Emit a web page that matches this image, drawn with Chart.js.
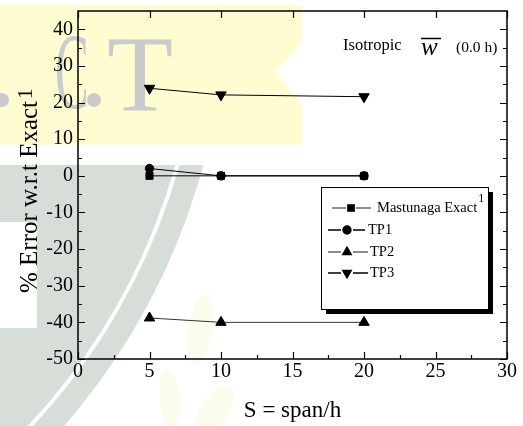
<!DOCTYPE html>
<html>
<head>
<meta charset="utf-8">
<script src="https://cdn.jsdelivr.net/npm/chart.js@4.4.1/dist/chart.umd.min.js"></script>
<style>
  html, body { margin: 0; padding: 0; background: #ffffff; }
  canvas { display: block; }
</style>
</head>
<body>
<canvas id="errChart" width="523" height="426"></canvas>
<script>
// Span-to-thickness ratios and % error of each theory w.r.t. the exact solution
const spanRatio = [5, 10, 20];
const mastunagaExact = [0, 0, 0];
const tp1 = [2, 0, 0];
const tp2 = [-38.8, -40, -40];
const tp3 = [23.9, 22.1, 21.6];
const seriesNames = ['Mastunaga Exact', 'TP1', 'TP2', 'TP3'];

// Axis ticks
const xTicks = [0, 5, 10, 15, 20, 25, 30];
const xMinorTicks = [2.5, 7.5, 12.5, 17.5, 22.5, 27.5];
const yTicks = [-50, -40, -30, -20, -10, 0, 10, 20, 30, 40];
const yMinorTicks = [-45, -35, -25, -15, -5, 5, 15, 25, 35];

const SERIF = '"Liberation Serif", "Times New Roman", serif';

function toPoints(xs, ys) {
  return xs.map((x, i) => ({ x: x, y: ys[i] }));
}

// Faint institutional backdrop behind the plot
const backdrop = {
  id: 'backdrop',
  beforeDraw(chart) {
    const ctx = chart.ctx;
    ctx.save();
    ctx.fillStyle = '#ffffff';
    ctx.fillRect(0, 0, chart.width, chart.height);

    // yellow band
    ctx.fillStyle = '#fefcd0';
    ctx.beginPath();
    ctx.moveTo(0, 5); ctx.lineTo(302, 5); ctx.lineTo(302, 42);
    ctx.lineTo(276, 72); ctx.lineTo(302, 104); ctx.lineTo(302, 145);
    ctx.lineTo(0, 145); ctx.closePath();
    ctx.fill();

    // grey letters
    ctx.fillStyle = '#cbcbcb';
    ctx.beginPath(); ctx.arc(94, 100, 7, 0, Math.PI * 2); ctx.fill();
    ctx.beginPath(); ctx.arc(2, 100, 7, 0, Math.PI * 2); ctx.fill();
    ctx.font = '108px ' + SERIF;
    ctx.textBaseline = 'alphabetic';
    ctx.textAlign = 'left';
    ctx.fillText('T', 107, 110);
    ctx.save();
    ctx.translate(55, 108);
    ctx.scale(0.47, 1);
    ctx.fillText('C', 0, 0);
    ctx.restore();

    // grey-green arc
    ctx.save();
    ctx.beginPath(); ctx.rect(0, 165, chart.width, chart.height - 165); ctx.clip();
    ctx.fillStyle = '#d7ded7';
    ctx.beginPath(); ctx.arc(-431, -6, 657, 0, Math.PI * 2); ctx.fill();
    ctx.strokeStyle = '#ffffff'; ctx.lineWidth = 4;
    ctx.beginPath(); ctx.arc(-431, -6, 632, 0, Math.PI * 2); ctx.stroke();
    ctx.fillStyle = '#ffffff';
    ctx.fillRect(0, 222, 37, 106);
    ctx.restore();

    // pale leaves
    ctx.fillStyle = '#fcfcec';
    ctx.beginPath(); ctx.ellipse(200, 330, 12, 35, 0.15, 0, Math.PI * 2); ctx.fill();
    ctx.beginPath(); ctx.ellipse(170, 400, 10, 30, -0.1, 0, Math.PI * 2); ctx.fill();
    ctx.beginPath(); ctx.ellipse(215, 410, 14, 26, 0.6, 0, Math.PI * 2); ctx.fill();
    ctx.restore();
  }
};

// Frame, inward ticks, y title, annotation and legend box
const decorations = {
  id: 'decorations',
  afterDraw(chart) {
    const ctx = chart.ctx;
    const xs = chart.scales.x, ys = chart.scales.y;
    const a = chart.chartArea;
    ctx.save();
    ctx.strokeStyle = '#000';
    ctx.lineWidth = 1.5;
    ctx.strokeRect(a.left, a.top, a.right - a.left, a.bottom - a.top);

    ctx.lineWidth = 1.2;
    ctx.beginPath();
    yTicks.concat(yMinorTicks).forEach(v => {
      const len = yTicks.includes(v) ? 7 : 4;
      const py = Math.round(ys.getPixelForValue(v)) + 0.5;
      ctx.moveTo(a.left, py); ctx.lineTo(a.left + len, py);
      ctx.moveTo(a.right, py); ctx.lineTo(a.right - len, py);
    });
    xTicks.concat(xMinorTicks).forEach(v => {
      const major = xTicks.includes(v);
      const len = major ? 7 : 4;
      const px = Math.round(xs.getPixelForValue(v)) + 0.5;
      ctx.moveTo(px, a.bottom); ctx.lineTo(px, a.bottom - len);
      if (major) { ctx.moveTo(px, a.top); ctx.lineTo(px, a.top + len); }
    });
    ctx.stroke();

    // y-axis title with superscript reference
    ctx.fillStyle = '#000';
    ctx.save();
    ctx.translate(37, 293);
    ctx.rotate(-Math.PI / 2);
    ctx.font = '25px ' + SERIF;
    ctx.textAlign = 'left';
    ctx.textBaseline = 'alphabetic';
    const yTitle = '% Error w.r.t Exact';
    ctx.fillText(yTitle, 0, 0);
    const w = ctx.measureText(yTitle).width;
    ctx.font = '21px ' + SERIF;
    ctx.fillText('1', w + 2, -5);
    ctx.restore();

    // annotation
    ctx.textBaseline = 'middle';
    ctx.font = '16.5px ' + SERIF;
    ctx.fillText('Isotropic', 343, 46);
    ctx.font = 'italic 25px ' + SERIF;
    ctx.textBaseline = 'alphabetic';
    ctx.fillText('w', 421, 55);
    ctx.lineWidth = 1.5;
    ctx.beginPath(); ctx.moveTo(421, 38.5); ctx.lineTo(441, 38.5); ctx.stroke();
    ctx.textBaseline = 'middle';
    ctx.font = '15.5px ' + SERIF;
    ctx.fillText('(0.0 h)', 456, 48);

    // legend box with drop shadow
    const bx = 321, by = 187, bw = 167, bh = 122;
    ctx.fillStyle = '#000';
    ctx.fillRect(bx + 5, by + 5, bw, bh);
    ctx.fillStyle = '#fff';
    ctx.fillRect(bx, by, bw, bh);
    ctx.strokeStyle = '#000';
    ctx.lineWidth = 1;
    ctx.strokeRect(bx + 0.5, by + 0.5, bw, bh);

    const rows = [
      { y: 208, l: [332, 346], m: 351, r: [356, 371], t: 377 },
      { y: 230, l: [328, 341], m: 347, r: [353, 365], t: 368 },
      { y: 252, l: [328, 341], m: 347, r: [353, 368], t: 370 },
      { y: 273, l: [328, 341], m: 347, r: [353, 368], t: 370 }
    ];
    chart.data.datasets.forEach((ds, i) => {
      const row = rows[i];
      ctx.strokeStyle = ds.legendLineColor;
      ctx.lineWidth = 1.3;
      ctx.beginPath();
      ctx.moveTo(row.l[0], row.y); ctx.lineTo(row.l[1], row.y);
      ctx.moveTo(row.r[0], row.y); ctx.lineTo(row.r[1], row.y);
      ctx.stroke();
      ctx.fillStyle = '#000';
      ctx.strokeStyle = '#000';
      Chart.helpers.drawPoint(ctx, {
        pointStyle: ds.pointStyle,
        rotation: ds.pointRotation || 0,
        radius: ds.legendRadius,
        borderWidth: 1
      }, row.m, row.y);
      ctx.fillStyle = '#000';
      ctx.font = '14.5px ' + SERIF;
      ctx.textBaseline = 'middle';
      ctx.textAlign = 'left';
      ctx.fillText(ds.label, row.t, row.y);
      if (i === 0) {
        const tw = ctx.measureText(ds.label).width;
        ctx.font = '12px ' + SERIF;
        ctx.fillText('1', row.t + tw + 1, row.y - 9);
      }
    });
    ctx.restore();
  }
};

new Chart(document.getElementById('errChart'), {
  type: 'line',
  data: {
    datasets: [
      {
        label: seriesNames[0], data: toPoints(spanRatio, mastunagaExact),
        borderColor: '#000', borderWidth: 1, pointStyle: 'rect', pointRadius: 5,
        pointBackgroundColor: '#000', pointBorderColor: '#000',
        legendLineColor: '#666', legendRadius: 4.5
      },
      {
        label: seriesNames[1], data: toPoints(spanRatio, tp1),
        borderColor: '#000', borderWidth: 1, pointStyle: 'circle', pointRadius: 4.2,
        pointBackgroundColor: '#000', pointBorderColor: '#000',
        legendLineColor: '#000', legendRadius: 4
      },
      {
        label: seriesNames[2], data: toPoints(spanRatio, tp2),
        borderColor: '#333', borderWidth: 1, pointStyle: 'triangle', pointRadius: 6,
        pointBackgroundColor: '#000', pointBorderColor: '#000',
        legendLineColor: '#666', legendRadius: 5
      },
      {
        label: seriesNames[3], data: toPoints(spanRatio, tp3),
        borderColor: '#000', borderWidth: 1, pointStyle: 'triangle', pointRotation: 180, pointRadius: 6,
        pointBackgroundColor: '#000', pointBorderColor: '#000',
        legendLineColor: '#000', legendRadius: 5
      }
    ]
  },
  options: {
    responsive: false,
    animation: false,
    devicePixelRatio: 1,
    layout: { padding: { left: 0, right: 16, top: 11, bottom: 0 } },
    plugins: { legend: { display: false }, tooltip: { enabled: false } },
    elements: { line: { tension: 0 } },
    scales: {
      x: {
        type: 'linear', min: 0, max: 30,
        afterBuildTicks: s => { s.ticks = xTicks.map(v => ({ value: v })); },
        afterFit: s => { s.height = 67; s.paddingLeft = 0; s.paddingRight = 0; },
        grid: { display: false, drawTicks: false },
        border: { display: false },
        ticks: { padding: 1, color: '#000', font: { family: SERIF, size: 20 }, maxRotation: 0, autoSkip: false },
        title: { display: true, text: 'S = span/h', color: '#000', font: { family: SERIF, size: 23 }, padding: { top: 0, bottom: 1 } }
      },
      y: {
        type: 'linear', min: -50, max: 45,
        afterBuildTicks: s => { s.ticks = yTicks.map(v => ({ value: v })); },
        afterFit: s => { s.width = 78; s.paddingTop = 0; s.paddingBottom = 0; },
        grid: { display: false, drawTicks: false },
        border: { display: false },
        ticks: { padding: 5, color: '#000', font: { family: SERIF, size: 20 }, autoSkip: false }
      }
    }
  },
  plugins: [backdrop, decorations]
});
</script>
</body>
</html>
